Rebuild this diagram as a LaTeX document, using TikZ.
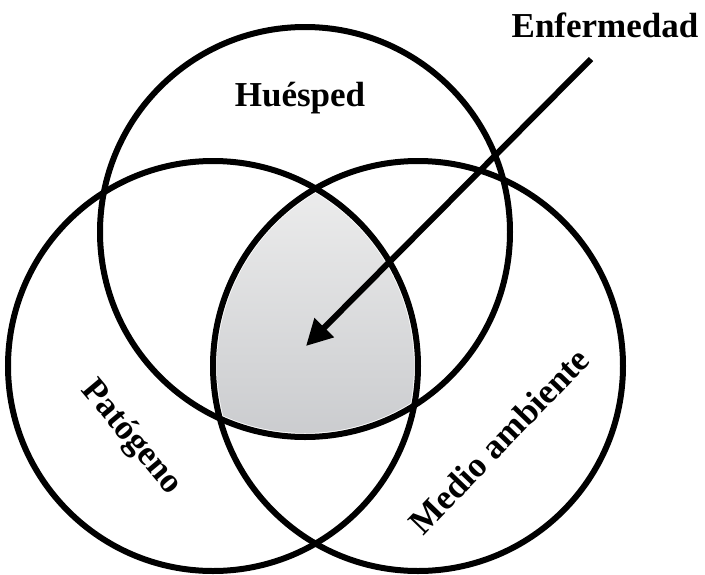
\documentclass[tikz,border=0pt]{standalone}
\usepackage{fontspec}
\setmainfont{Liberation Serif}
\usepackage{xcolor}
\definecolor{trink}{HTML}{000000}
\definecolor{trlight}{HTML}{EFEFEF}
\definecolor{trdark}{HTML}{B9BBBF}
\usepackage{tikz}
\usetikzlibrary{arrows.meta}
\tikzset{
  trring/.style ={circle, draw=trink, line width=6pt, minimum size=410pt,
                  inner sep=0pt},
  trlbl/.style  ={font=\fontsize{35}{40}\selectfont\bfseries, text=trink,
                  inner sep=0pt},
  trarrow/.style={-{Triangle[length=26pt,width=26pt]}, line width=6pt, draw=trink},
}

\begin{document}
\begin{tikzpicture}[x=1pt, y=-1pt]
  \useasboundingbox (0,0) rectangle (705,574);
  % shaded common part of the three sets
  \begin{scope}
    \clip (305,232) circle[radius=201pt];
    \clip (213,366) circle[radius=201pt];
    \shade[top color=trlight, bottom color=trdark] (418,366) circle[radius=201pt];
  \end{scope}
  \node[trring] (huesped) at (305,232) {};
  \node[trring] (patogeno) at (213,366) {};
  \node[trring] (medio) at (418,366) {};
  \node[trlbl, anchor=base] (lhuesped) at (300,106) {Huésped};
  \node[trlbl, rotate=-50] (lpatogeno) at (131,438) {Patógeno};
  \node[trlbl, rotate=46] (lmedio) at (499,441) {Medio ambiente};
  \node[trlbl, anchor=base] (lenf) at (605,37) {Enfermedad};
  \coordinate (enfa) at (591,59);
  \coordinate (enfb) at (306,346);
  \draw[trarrow] (enfa) -- (enfb);
\end{tikzpicture}
\end{document}
